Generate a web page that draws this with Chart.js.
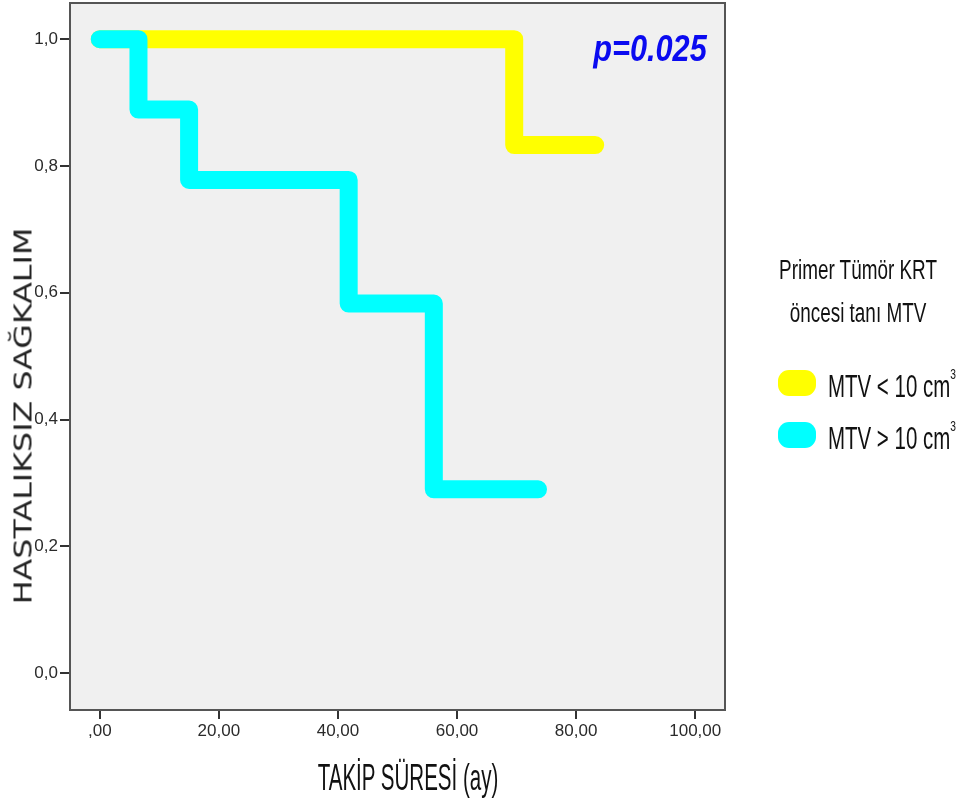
<!DOCTYPE html>
<html lang="tr">
<head>
    <meta charset="UTF-8">
    <title>Primer Tümör KRT öncesi tanı MTV - Sağkalım</title>
    <script src="https://cdn.jsdelivr.net/npm/chart.js"></script>
    <style>
        body { margin: 0; background: #fff; }
        #wrap { position: relative; width: 970px; height: 810px; }
        .lbl { position: absolute; color: #111; white-space: nowrap; font-family: "Liberation Sans", Arial, sans-serif; line-height: 1; }
        .sw { position: absolute; width: 38px; height: 26px; border-radius: 11px; }
        sup { font-size: 50%; vertical-align: 1.1em; line-height: 0; }
    </style>
</head>
<body>
<div id="wrap">
    <canvas id="kmChart" width="970" height="810"></canvas>

    <!-- axis titles placed by hand (SPSS puts the y title a bit low) -->
    <div class="lbl" id="yTitle" style="left:23px; top:416px; font-family:'DejaVu Sans', sans-serif; font-size:25px; color:#222; transform:translate(-50%,-50%) rotate(-90deg) scaleX(1.27);"></div>
    <div class="lbl" id="xTitle" style="left:408px; top:778px; font-size:36px; transform:translate(-50%,-50%) scaleX(0.57);"></div>

    <div class="lbl" id="pVal" style="left:650px; top:48px; font-size:37px; font-weight:bold; font-style:italic; color:#0a0af0; transform:translate(-50%,-50%) scaleX(0.83);"></div>

    <!-- legend -->
    <div class="lbl" id="legTitle" style="left:858px; top:292px; font-size:27px; line-height:43px; text-align:center; transform:translate(-50%,-50%) scaleX(0.7);"></div>
    <div class="sw" style="left:778px; top:370px; background:#ffff00;"></div>
    <div class="lbl" id="leg0" style="left:828px; top:386px; font-size:31px; transform-origin:0 50%; transform:translateY(-50%) scaleX(0.66);"></div>
    <div class="sw" style="left:778px; top:422px; background:#00ffff;"></div>
    <div class="lbl" id="leg1" style="left:828px; top:438px; font-size:31px; transform-origin:0 50%; transform:translateY(-50%) scaleX(0.66);"></div>
</div>

<script type="text/javascript">
    // Kaplan-Meier steps (months, survival)
    const smallTimes = [0, 69.6, 83.2];
    const smallSurv = [1.0, 0.833, 0.833];
    const largeTimes = [0, 6.5, 15, 41.8, 56.1, 73.6];
    const largeSurv = [1.0, 0.889, 0.778, 0.583, 0.29, 0.29];

    const seriesNames = ['MTV < 10 cm', 'MTV > 10 cm'];
    const xTicks = [0, 20, 40, 60, 80, 100];
    const yTicks = [0, 0.2, 0.4, 0.6, 0.8, 1.0];

    const legendTitle = ['Primer Tümör KRT', 'öncesi tanı MTV'];
    const xTitle = 'TAKİP SÜRESİ (ay)';
    const yTitle = 'HASTALIKSIZ SAĞKALIM';
    const pText = 'p=0.025';

    document.getElementById('yTitle').textContent = yTitle;
    document.getElementById('xTitle').textContent = xTitle;
    document.getElementById('pVal').textContent = pText;
    document.getElementById('legTitle').innerHTML = legendTitle.join('<br>');
    document.getElementById('leg0').innerHTML = seriesNames[0] + '<sup>3</sup>';
    document.getElementById('leg1').innerHTML = seriesNames[1] + '<sup>3</sup>';

    function toPoints(xs, ys) {
        return xs.map((x, i) => ({ x: x, y: ys[i] }));
    }

    // grey plot area + frame
    const framePlugin = {
        id: 'frame',
        beforeDraw(chart) {
            const a = chart.chartArea, ctx = chart.ctx;
            ctx.save();
            ctx.fillStyle = '#f0f0f0';
            ctx.fillRect(a.left, a.top, a.right - a.left, a.bottom - a.top);
            ctx.restore();
        },
        afterDraw(chart) {
            const a = chart.chartArea, ctx = chart.ctx;
            ctx.save();
            ctx.strokeStyle = '#555';
            ctx.lineWidth = 2;
            ctx.strokeRect(a.left, a.top, a.right - a.left, a.bottom - a.top);
            ctx.restore();
        }
    };

    const tickFont = { family: '"Liberation Sans", Arial, sans-serif', size: 17 };

    new Chart(document.getElementById('kmChart'), {
        type: 'line',
        data: {
            datasets: [{
                label: seriesNames[0],
                data: toPoints(smallTimes, smallSurv),
                borderColor: '#ffff00',
                order: 1
            }, {
                label: seriesNames[1],
                data: toPoints(largeTimes, largeSurv),
                borderColor: '#00ffff',
                order: 0
            }]
        },
        options: {
            responsive: false,
            animation: false,
            datasets: {
                line: {
                    stepped: 'before',
                    borderWidth: 18,
                    borderCapStyle: 'round',
                    borderJoinStyle: 'round',
                    pointRadius: 0,
                    fill: false
                }
            },
            layout: { padding: { top: 3, right: 245, left: 0, bottom: 0 } },
            plugins: {
                legend: { display: false },
                tooltip: { enabled: false }
            },
            scales: {
                x: {
                    type: 'linear',
                    min: -5,
                    max: 105,
                    afterBuildTicks: axis => { axis.ticks = xTicks.map(v => ({ value: v })); },
                    afterFit: axis => { axis.height = 100; axis.paddingLeft = 0; axis.paddingRight = 0; },
                    grid: { display: true, drawOnChartArea: false, tickLength: 9, tickColor: '#333', lineWidth: 2 },
                    border: { display: false },
                    ticks: {
                        color: '#2a2a2a',
                        font: tickFont,
                        padding: 2,
                        maxRotation: 0,
                        callback: v => v === 0 ? ',00' : v.toFixed(2).replace('.', ',')
                    }
                },
                y: {
                    min: -0.058,
                    max: 1.057,
                    afterBuildTicks: axis => { axis.ticks = yTicks.map(v => ({ value: v })); },
                    afterFit: axis => { axis.width = 70; axis.paddingTop = 0; axis.paddingBottom = 0; },
                    grid: { display: true, drawOnChartArea: false, tickLength: 10, tickColor: '#333', lineWidth: 2 },
                    border: { display: false },
                    ticks: {
                        color: '#2a2a2a',
                        font: tickFont,
                        padding: 2,
                        callback: v => v.toFixed(1).replace('.', ',')
                    }
                }
            }
        },
        plugins: [framePlugin]
    });
</script>
</body>
</html>
